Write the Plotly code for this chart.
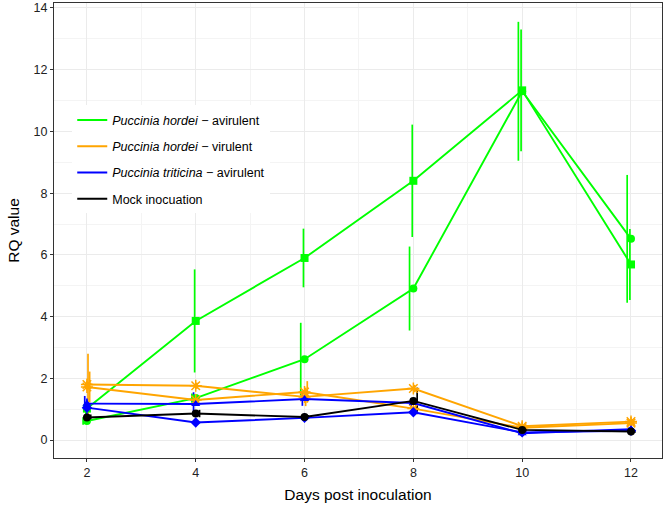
import plotly.graph_objects as go

days = [2, 4, 6, 8, 10, 12]

# Puccinia hordei - avirulent (two replicate experiments)
ph_avir_sq = [1.02, 3.86, 5.90, 8.40, 11.33, 5.69]
ph_avir_sq_err = [0.20, 1.67, 0.95, 1.82, 1.97, 1.15]
ph_avir_ci = [0.62, 1.36, 2.62, 4.91, 11.30, 6.52]
ph_avir_ci_err = [0.12, 0.15, 1.18, 1.36, 2.25, 2.07]

# Puccinia hordei - virulent
ph_vir_a = [1.80, 1.76, 1.40, 1.67, 0.45, 0.60]
ph_vir_a_err = [1.00, 0.10, 0.30, 0.12, 0.05, 0.08]
ph_vir_b = [1.72, 1.30, 1.56, 1.02, 0.40, 0.55]
ph_vir_b_err = [0.50, 0.12, 0.35, 0.15, 0.05, 0.06]

# Puccinia triticina - avirulent
pt_avir_a = [1.18, 1.17, 1.33, 1.20, 0.22, 0.35]
pt_avir_a_err = [0.25, 0.38, 0.22, 0.15, 0.05, 0.06]
pt_avir_b = [1.05, 0.57, 0.72, 0.90, 0.25, 0.30]
pt_avir_b_err = [0.30, 0.10, 0.08, 0.08, 0.04, 0.05]

# Mock inoculation
mock = [0.73, 0.86, 0.75, 1.27, 0.33, 0.28]
mock_err = [0.10, 0.12, 0.06, 0.43, 0.05, 0.05]

legend_labels = [
    "<i>Puccinia hordei</i> − avirulent",
    "<i>Puccinia hordei</i> − virulent",
    "<i>Puccinia triticina</i> − avirulent",
    "Mock inocuation",
]

GREEN = "#00FF00"
ORANGE = "#FFA500"
BLUE = "#0000FF"
BLACK = "#000000"

series = [
    (ph_avir_sq, ph_avir_sq_err, GREEN, "square", -0.02),
    (ph_avir_ci, ph_avir_ci_err, GREEN, "circle", -0.07),
    (ph_vir_a, ph_vir_a_err, ORANGE, "asterisk-open", 0.02),
    (ph_vir_b, ph_vir_b_err, ORANGE, "asterisk-open", 0.05),
    (pt_avir_a, pt_avir_a_err, BLUE, "triangle-up", -0.04),
    (pt_avir_b, pt_avir_b_err, BLUE, "diamond", 0.0),
    (mock, mock_err, BLACK, "circle", 0.07),
]

fig = go.Figure()

# error bars (slightly dodged)
for vals, errs, col, sym, off in series:
    fig.add_trace(go.Scatter(
        x=[d + off for d in days], y=vals, mode="markers",
        marker=dict(size=1, color="rgba(0,0,0,0)"),
        error_y=dict(type="data", array=errs, visible=True, color=col,
                     thickness=1.7, width=0),
        showlegend=False, hoverinfo="skip"))

# lines + points
for vals, errs, col, sym, off in series:
    msize = 10 if sym.startswith("asterisk") else 8
    fig.add_trace(go.Scatter(
        x=days, y=vals, mode="lines+markers",
        line=dict(color=col, width=1.9),
        marker=dict(symbol=sym, size=msize, color=col,
                    line=dict(color=col, width=1.5 if sym.startswith("asterisk") else 0)),
        showlegend=False))

# legend entries (lines only)
for i, (lab, col) in enumerate(zip(legend_labels, [GREEN, ORANGE, BLUE, BLACK])):
    fig.add_trace(go.Scatter(
        x=[None], y=[None], mode="lines", name=lab,
        line=dict(color=col, width=1.9), legendgroup=f"g{i}", showlegend=True))

axis_common = dict(
    showline=True, linecolor="#333333", linewidth=1, mirror=True,
    ticks="outside", ticklen=3, tickcolor="#333333", tickwidth=1,
    showgrid=True, gridcolor="#EBEBEB", gridwidth=1.1, zeroline=False,
    ticklabeloverflow="allow",
    tickfont=dict(family="Liberation Sans, Arial, sans-serif", size=12.5, color="#222222"),
)

fig.update_layout(
    width=664, height=507,
    margin=dict(l=54, r=1, t=1, b=49),
    paper_bgcolor="white", plot_bgcolor="white",
    font=dict(family="Liberation Sans, Arial, sans-serif", color="#000000"),
    xaxis=dict(range=[1.395, 12.57], tickvals=[2, 4, 6, 8, 10, 12],
               minor=dict(tickvals=[3, 5, 7, 9, 11], showgrid=True,
                          gridcolor="#F4F4F4", gridwidth=1, ticks=""),
               title=dict(text="Days post inoculation", font=dict(size=15.5), standoff=10),
               **axis_common),
    yaxis=dict(range=[-0.58, 14.16], tickvals=[0, 2, 4, 6, 8, 10, 12, 14],
               minor=dict(tickvals=[1, 3, 5, 7, 9, 11, 13], showgrid=True,
                          gridcolor="#F4F4F4", gridwidth=1, ticks=""),
               title=dict(text="RQ value", font=dict(size=15.5), standoff=10),
               **axis_common),
    legend=dict(x=0.03, y=0.775, xanchor="left", yanchor="top",
                bgcolor="white", borderwidth=0,
                font=dict(size=12.5, color="#000000"),
                traceorder="grouped", tracegroupgap=7,
                itemwidth=30),
)

fig.write_html("out.html", config={"displayModeBar": False},
               post_script="document.body.style.margin='0';document.body.style.padding='0';")
